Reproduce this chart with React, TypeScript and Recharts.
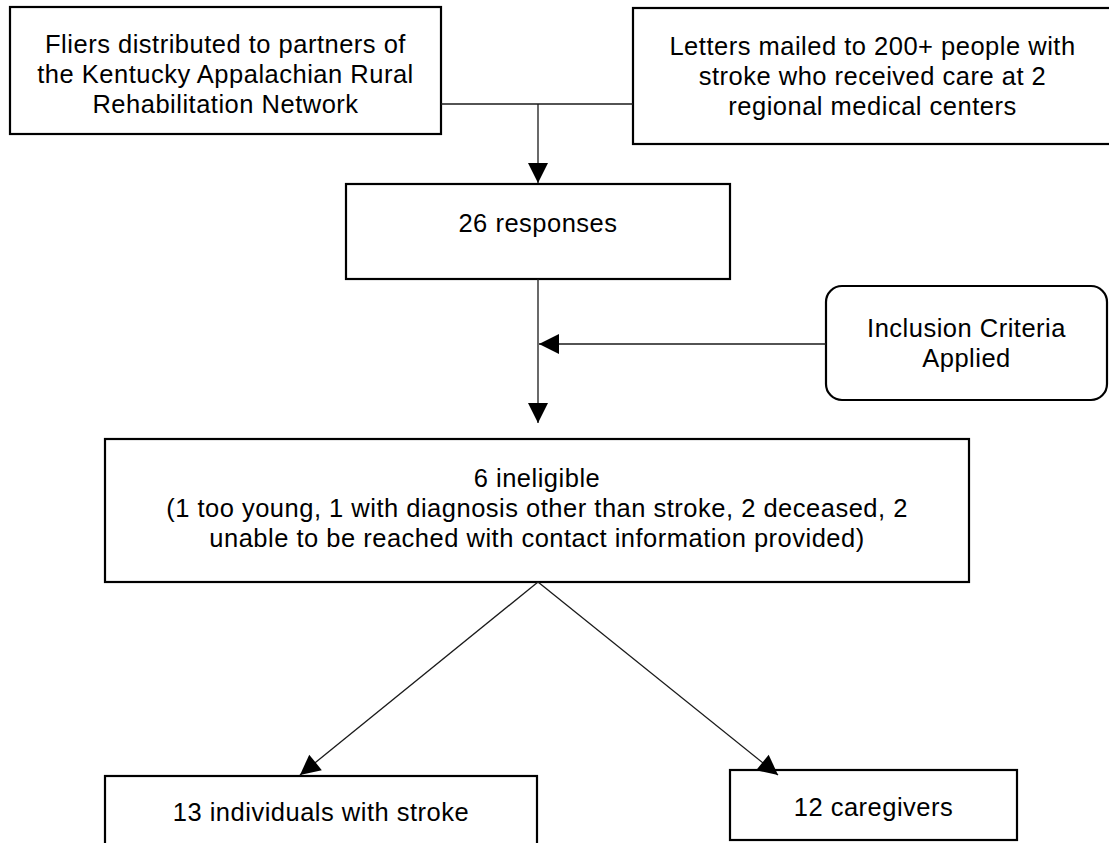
import { ReferenceArea, ReferenceLine, Scatter, ScatterChart, XAxis, YAxis } from 'recharts';

// diagram space, one unit per pixel of the original page
const WIDTH = 1109;
const HEIGHT = 843;

const nodeLabels: string[][] = [
  ['Fliers distributed to partners of', 'the Kentucky Appalachian Rural', 'Rehabilitation Network'],
  ['Letters mailed to 200+ people with', 'stroke who received care at 2', 'regional medical centers'],
  ['26 responses'],
  ['Inclusion Criteria', 'Applied'],
  [
    '6 ineligible',
    '(1 too young, 1 with diagnosis other than stroke, 2 deceased, 2',
    'unable to be reached with contact information provided)',
  ],
  ['13 individuals with stroke'],
  ['12 caregivers'],
];
const nodeKinds = ['box', 'box', 'box', 'rounded', 'box', 'box', 'box'];
const nodeLeft = [10, 633, 346, 826, 105, 105, 730];
const nodeRight = [441, 1112, 730, 1107, 969, 537, 1017];
const nodeTop = [7, 8, 184, 286, 439, 776, 770];
const nodeBottom = [134, 144, 279, 400, 582, 852, 840];
const labelShift = [3, 0, -9, 0, -3, -2, 2];

const edgeFrom = [
  [441, 104],
  [538, 104],
  [826, 344],
  [538, 279],
  [538, 582],
  [538, 582],
];
const edgeTo = [
  [633, 104],
  [538, 183],
  [539, 344],
  [538, 423],
  [300, 775],
  [778, 775],
];
const edgeArrow = [false, true, true, true, true, true];

const arrowTips = edgeTo
  .map((to, i) => ({ x: to[0], y: to[1], dx: to[0] - edgeFrom[i][0], dy: to[1] - edgeFrom[i][1], arrow: edgeArrow[i] }))
  .filter((d) => d.arrow);

const FONT = '"Liberation Sans", Arial, sans-serif';
const LINE_GAP = 30;

function nodeShape(lines: string[], kind: string, shift: number) {
  return (props: any) => {
    const { x, y, width, height } = props;
    const cx = x + width / 2;
    const cy = y + height / 2 + shift;
    const first = cy - ((lines.length - 1) * LINE_GAP) / 2;
    return (
      <g>
        <rect
          x={x}
          y={y}
          width={width}
          height={height}
          rx={kind === 'rounded' ? 16 : 0}
          fill="#fff"
          stroke="#000"
          strokeWidth={2.2}
        />
        {lines.map((line, i) => (
          <text
            key={i}
            x={cx}
            y={first + i * LINE_GAP}
            textAnchor="middle"
            dominantBaseline="central"
            fontFamily={FONT}
            fontSize={25.5}
            letterSpacing={0.5}
            fill="#000"
          >
            {line}
          </text>
        ))}
      </g>
    );
  };
}

function ArrowHead(props: any) {
  const { cx, cy, payload } = props;
  const len = Math.hypot(payload.dx, payload.dy) || 1;
  const ux = payload.dx / len;
  const uy = payload.dy / len;
  const bx = cx - ux * 20;
  const by = cy - uy * 20;
  const pts = [
    [cx, cy],
    [bx - uy * 10, by + ux * 10],
    [bx + uy * 10, by - ux * 10],
  ]
    .map((p) => p.join(','))
    .join(' ');
  return <polygon points={pts} fill="#000" />;
}

export default function App() {
  return (
    <div style={{ width: WIDTH, height: HEIGHT, background: '#fff' }}>
      <style>{'body{margin:0;background:#fff}'}</style>
      <ScatterChart width={WIDTH} height={HEIGHT} margin={{ top: 0, right: 0, bottom: 0, left: 0 }}>
        <XAxis type="number" dataKey="x" domain={[0, WIDTH]} hide allowDataOverflow />
        <YAxis type="number" dataKey="y" domain={[0, HEIGHT]} reversed hide allowDataOverflow />
        {edgeFrom.map((from, i) => (
          <ReferenceLine
            key={`e${i}`}
            segment={[
              { x: from[0], y: from[1] },
              { x: edgeTo[i][0], y: edgeTo[i][1] },
            ]}
            stroke="#1a1a1a"
            strokeWidth={1.3}
            ifOverflow="visible"
          />
        ))}
        {nodeLabels.map((lines, i) => (
          <ReferenceArea
            key={`n${i}`}
            x1={nodeLeft[i]}
            x2={nodeRight[i]}
            y1={nodeTop[i]}
            y2={nodeBottom[i]}
            ifOverflow="visible"
            shape={nodeShape(lines, nodeKinds[i], labelShift[i])}
          />
        ))}
        <Scatter data={arrowTips} shape={<ArrowHead />} isAnimationActive={false} />
      </ScatterChart>
    </div>
  );
}
